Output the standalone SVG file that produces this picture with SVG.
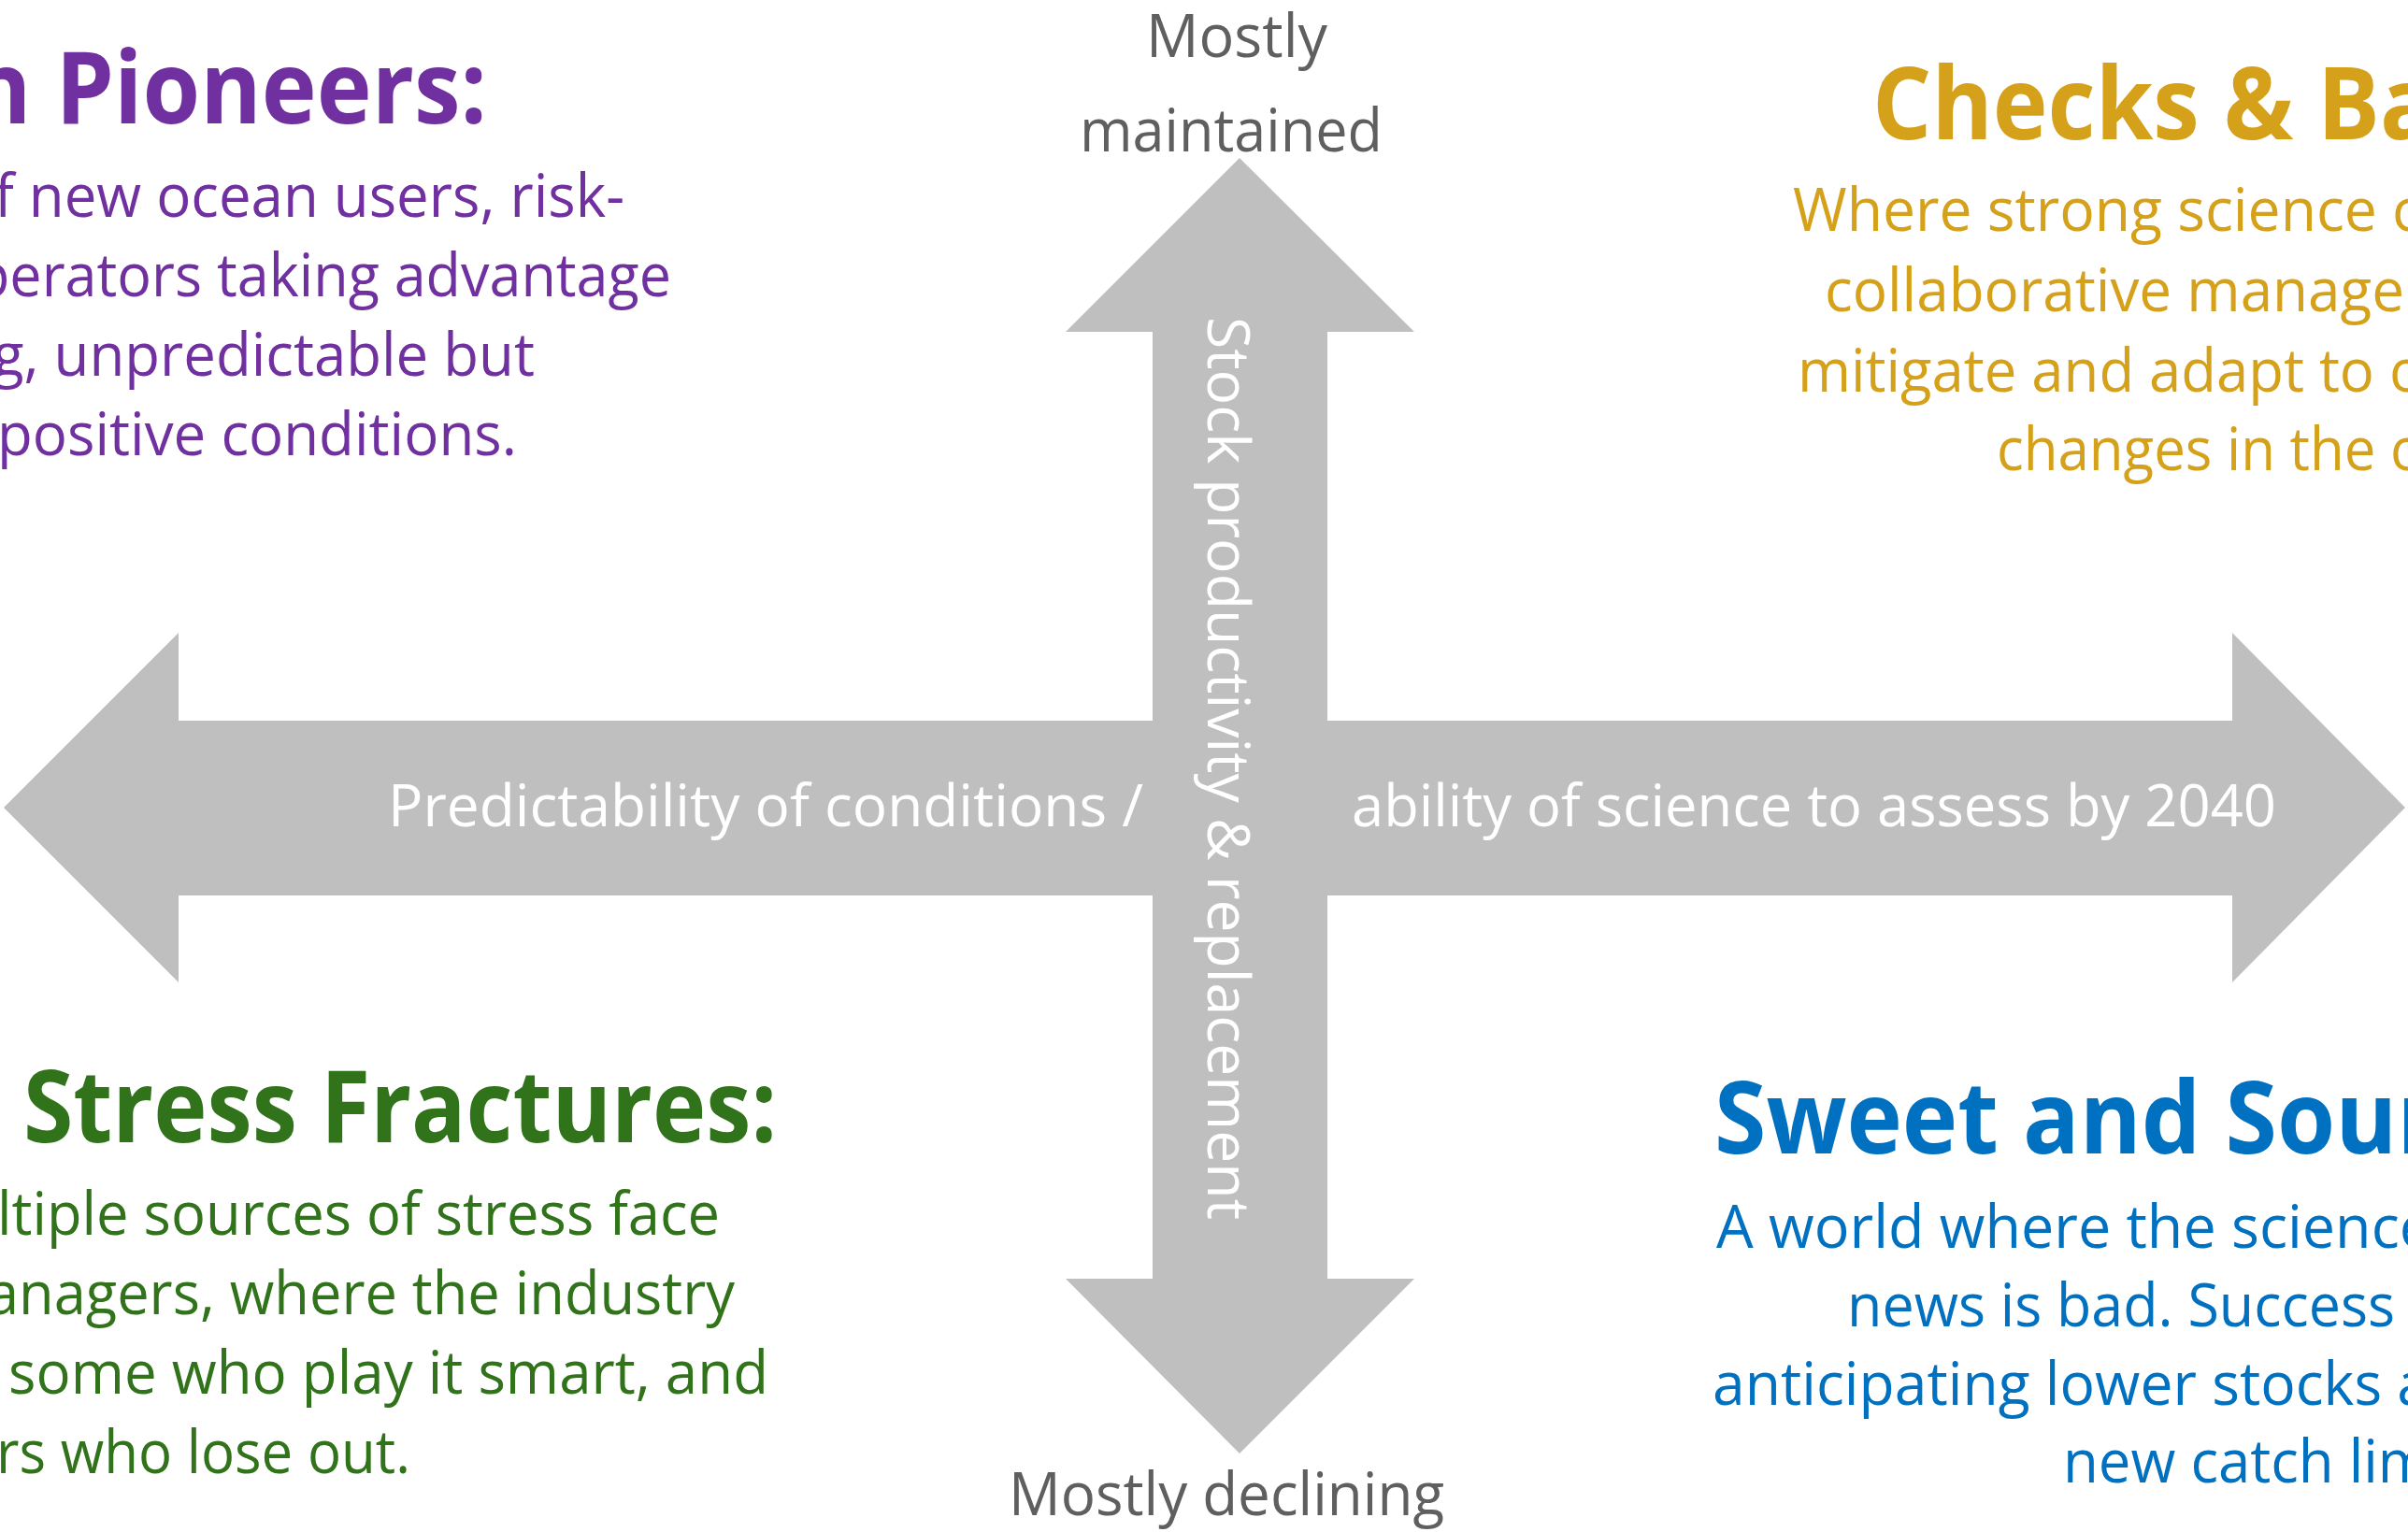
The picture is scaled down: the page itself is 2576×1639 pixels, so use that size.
<svg xmlns="http://www.w3.org/2000/svg" width="2576" height="1639" viewBox="0 0 2576 1639">
<style>
.t{font-family:"Open Sans","Noto Sans","Liberation Sans",sans-serif;}
.h{font-family:"Open Sans","Noto Sans","Liberation Sans",sans-serif;font-weight:700;font-size:107px;}
.b{font-size:64px;}
.ax{fill:#BFBFBF;}
.axl{fill:#FFFFFF;font-size:62px;}
.end{fill:#5F5F5F;font-size:64px;}
.pur{fill:#7030A0;}
.gold{fill:#D6A11A;}
.grn{fill:#31731B;}
.blu{fill:#0070C0;}
</style>
<rect x="0" y="0" width="2576" height="1639" fill="#FFFFFF"/>
<g id="connectors">
  <polygon class="ax" points="4,864 191,677 191,771 2388,771 2388,677 2573,864 2388,1051 2388,958 191,958 191,1051"/>
  <polygon class="ax" points="1326,169 1513,355 1420,355 1420,1368 1513,1368 1326,1555 1140,1368 1233,1368 1233,355 1140,355"/>
</g>
<g id="axis-labels" class="t">
  <text class="axl" x="415" y="884" textLength="808" lengthAdjust="spacingAndGlyphs">Predictability of conditions /</text>
  <text class="axl" x="1446" y="884" textLength="989" lengthAdjust="spacingAndGlyphs">ability of science to assess by 2040</text>
  <text class="axl" transform="translate(1292,339) rotate(90)" x="0" y="0" textLength="966" lengthAdjust="spacingAndGlyphs">Stock productivity &amp; replacement</text>
  <text class="end" x="1226" y="61" textLength="194" lengthAdjust="spacingAndGlyphs">Mostly</text>
  <text class="end" x="1155" y="162" textLength="324" lengthAdjust="spacingAndGlyphs">maintained</text>
  <text class="end" x="1079" y="1621" textLength="466" lengthAdjust="spacingAndGlyphs">Mostly declining</text>
</g>
<g id="ocean-pioneers" class="t pur">
  <text class="h" x="-32" y="132" textLength="553" lengthAdjust="spacingAndGlyphs">n Pioneers:</text>
  <text class="b" x="-6" y="232" textLength="674" lengthAdjust="spacingAndGlyphs">f new ocean users, risk-</text>
  <text class="b" x="-27" y="317" textLength="745" lengthAdjust="spacingAndGlyphs">perators taking advantage</text>
  <text class="b" x="-8" y="402" textLength="580" lengthAdjust="spacingAndGlyphs">g, unpredictable but</text>
  <text class="b" x="-3" y="487" textLength="556" lengthAdjust="spacingAndGlyphs">positive conditions.</text>
</g>
<g id="checks-balances" class="t gold">
  <text class="h" x="2003" y="149" textLength="603" lengthAdjust="spacingAndGlyphs">Checks &amp; Ba</text>
  <text class="b" x="1918" y="247" textLength="671" lengthAdjust="spacingAndGlyphs">Where strong science c</text>
  <text class="b" x="1952" y="333" textLength="620" lengthAdjust="spacingAndGlyphs">collaborative manage</text>
  <text class="b" x="1923" y="419" textLength="670" lengthAdjust="spacingAndGlyphs">mitigate and adapt to o</text>
  <text class="b" x="2136" y="503" textLength="457" lengthAdjust="spacingAndGlyphs">changes in the o</text>
</g>
<g id="stress-fractures" class="t grn">
  <text class="h" x="25" y="1222" textLength="806" lengthAdjust="spacingAndGlyphs">Stress Fractures:</text>
  <text class="b" x="-3" y="1321" textLength="773" lengthAdjust="spacingAndGlyphs">ltiple sources of stress face</text>
  <text class="b" x="-14" y="1406" textLength="800" lengthAdjust="spacingAndGlyphs">anagers, where the industry</text>
  <text class="b" x="9" y="1491" textLength="813" lengthAdjust="spacingAndGlyphs">some who play it smart, and</text>
  <text class="b" x="-4" y="1576" textLength="443" lengthAdjust="spacingAndGlyphs">rs who lose out.</text>
</g>
<g id="sweet-sour" class="t blu">
  <text class="h" x="1834" y="1234" textLength="776" lengthAdjust="spacingAndGlyphs">Sweet and Sour</text>
  <text class="b" x="1836" y="1335" textLength="766" lengthAdjust="spacingAndGlyphs">A world where the science</text>
  <text class="b" x="1976" y="1419" textLength="586" lengthAdjust="spacingAndGlyphs">news is bad. Success</text>
  <text class="b" x="1832" y="1503" textLength="767" lengthAdjust="spacingAndGlyphs">anticipating lower stocks a</text>
  <text class="b" x="2207" y="1586" textLength="394" lengthAdjust="spacingAndGlyphs">new catch lim</text>
</g>
</svg>
